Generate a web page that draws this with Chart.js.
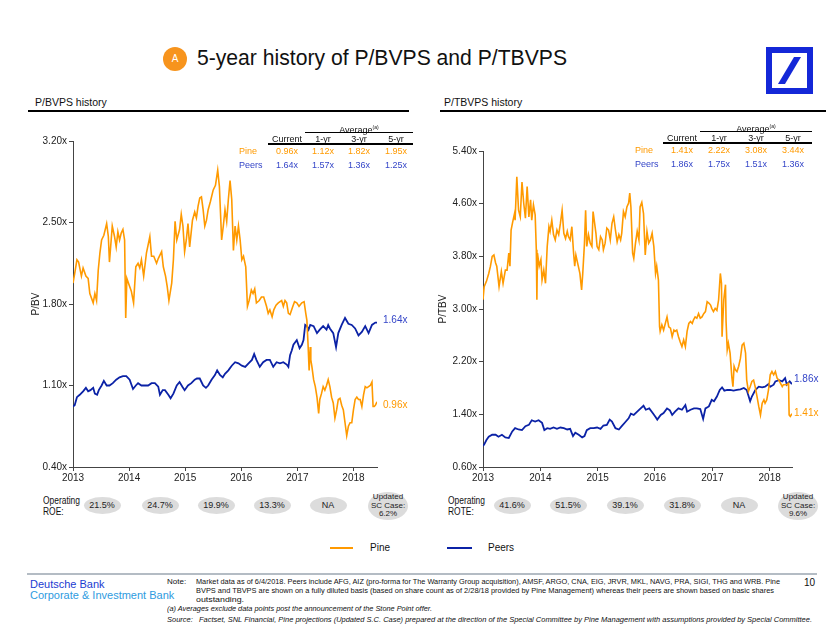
<!DOCTYPE html>
<html>
<head>
<meta charset="utf-8">
<script src="https://cdn.jsdelivr.net/npm/chart.js@4.4.0/dist/chart.umd.min.js"></script>
<style>
  body { margin: 0; width: 840px; height: 632px; position: relative; overflow: hidden; background: #fff;
         font-family: "Liberation Sans", Arial, sans-serif; color: #111; }
  .t { position: absolute; white-space: nowrap; line-height: 12px; }
  .rule { position: absolute; background: #000; }
  .pill { position: absolute; background: #dcdcdc; border-radius: 50%; display: flex; align-items: center;
          justify-content: center; text-align: center; font-size: 9px; line-height: 9px; color: #222; white-space: nowrap; }
  canvas { position: absolute; }
  .foot { position: absolute; font-size: 8px; line-height: 10px; white-space: nowrap; transform-origin: 0 0; color: #111; }
  .fitx { transform-origin: 0 0; }
</style>
</head>
<body>

<div style="position:absolute;left:163px;top:47px;width:24px;height:24px;border-radius:50%;background:#F7941D;color:#fff;font-size:10px;line-height:24px;text-align:center;">A</div>
<div id="title" class="t" style="left:197px;top:45px;font-size:22px;line-height:26px;transform-origin:0 0;">5-year history of P/BVPS and P/TBVPS</div>
<svg style="position:absolute;left:766px;top:47px" width="47" height="47" viewBox="0 0 47 47">
  <rect x="3" y="3" width="41" height="41" fill="#fff" stroke="#1428D8" stroke-width="6"/>
  <polygon points="12,37 19,37 35,10 28,10" fill="#1428D8"/>
</svg>

<div class="t" style="left:35px;top:96px;font-size:10.5px;">P/BVPS history</div>
<div class="rule" style="left:28px;top:110px;width:381px;height:2px;"></div>
<div class="t" style="left:444px;top:96px;font-size:10.5px;">P/TBVPS history</div>
<div class="rule" style="left:440px;top:110px;width:386px;height:2px;"></div>

<canvas id="bvChart" width="420" height="356" style="left:0;top:131px;"></canvas>
<canvas id="tbvChart" width="430" height="346" style="left:410px;top:141px;"></canvas>

<div class="t fit fitx" data-w="37" style="left:43px;top:495px;font-size:10px;line-height:11px;">Operating<br>ROE:</div>
<div class="t fit fitx" data-w="37" style="left:448px;top:495px;font-size:10px;line-height:11px;">Operating<br>ROTE:</div>

<div style="position:absolute;left:330px;top:547px;width:23px;height:2px;background:#FF9900;"></div>
<div class="t" style="left:370px;top:542px;font-size:10px;">Pine</div>
<div style="position:absolute;left:447px;top:547px;width:25px;height:2px;background:#0B22A6;"></div>
<div class="t" style="left:488px;top:542px;font-size:10px;">Peers</div>

<div style="position:absolute;left:27px;top:573px;width:790px;height:2px;background:#b4bcc4;"></div>
<div class="t" style="left:30px;top:578px;font-size:11px;color:#1B3BD1;">Deutsche Bank</div>
<div class="t" style="left:30px;top:589px;font-size:11px;color:#2E9BE0;">Corporate &amp; Investment Bank</div>
<div class="t" style="left:804px;top:577px;font-size:10px;">10</div>
<div class="foot" style="left:167px;top:577px;">Note:</div>
<div class="foot fit" data-w="584" style="left:196px;top:577px;">Market data as of 6/4/2018. Peers include AFG, AIZ (pro-forma for The Warranty Group acquisition), AMSF, ARGO, CNA, EIG, JRVR, MKL, NAVG, PRA, SIGI, THG and WRB. Pine</div>
<div class="foot fit" data-w="578" style="left:196px;top:586px;">BVPS and TBVPS are shown on a fully diluted basis (based on share count as of 2/28/18 provided by Pine Management) whereas their peers are shown based on basic shares</div>
<div class="foot fit" data-w="48" style="left:196px;top:595px;">outstanding.</div>
<div class="foot fit" data-w="265" style="left:167px;top:604px;font-style:italic;">(a) Averages exclude data points post the announcement of the Stone Point offer.</div>
<div class="foot fit" data-w="645" style="left:167px;top:615px;font-style:italic;">Source:&nbsp;&nbsp; Factset, SNL Financial, Pine projections (Updated S.C. Case) prepared at the direction of the Special Committee by Pine Management with assumptions provided by Special Committee.</div>

<script>
// Data
const years = [2013, 2014, 2015, 2016, 2017, 2018];
const bvTicks = [0.4, 1.1, 1.8, 2.5, 3.2];
const tbvTicks = [0.6, 1.4, 2.2, 3.0, 3.8, 4.6, 5.4];

const pineBV = [
  [2013.00, 1.98], [2013.03, 2.06], [2013.07, 2.18], [2013.10, 2.16], [2013.15, 2.04], [2013.18, 2.11],
  [2013.23, 2.04], [2013.27, 2.02], [2013.30, 1.89], [2013.36, 1.81], [2013.39, 1.89], [2013.42, 1.83],
  [2013.45, 2.09], [2013.48, 2.24], [2013.51, 2.35], [2013.55, 2.39], [2013.60, 2.49], [2013.63, 2.38],
  [2013.65, 2.16], [2013.70, 2.47], [2013.74, 2.38], [2013.77, 2.29], [2013.80, 2.42], [2013.83, 2.35],
  [2013.86, 2.41], [2013.89, 2.44], [2013.92, 2.35], [2013.94, 1.68], [2013.96, 2.02], [2014.01, 1.95],
  [2014.04, 1.91], [2014.08, 1.81], [2014.12, 2.12], [2014.16, 2.15], [2014.19, 2.11], [2014.22, 2.18],
  [2014.26, 2.04], [2014.31, 2.24], [2014.37, 2.38], [2014.40, 2.21], [2014.44, 2.21], [2014.49, 2.15],
  [2014.52, 2.19], [2014.58, 2.25], [2014.61, 2.12], [2014.65, 2.04], [2014.68, 1.95], [2014.71, 1.83],
  [2014.76, 1.98], [2014.79, 2.18], [2014.82, 2.51], [2014.85, 2.35], [2014.90, 2.44], [2014.93, 2.57],
  [2014.96, 2.47], [2014.99, 2.25], [2015.02, 2.35], [2015.05, 2.49], [2015.08, 2.29], [2015.13, 2.52],
  [2015.17, 2.59], [2015.20, 2.54], [2015.23, 2.64], [2015.26, 2.71], [2015.29, 2.72], [2015.32, 2.61],
  [2015.35, 2.47], [2015.38, 2.52], [2015.41, 2.61], [2015.45, 2.68], [2015.50, 2.78], [2015.54, 2.82],
  [2015.58, 2.95], [2015.61, 2.81], [2015.63, 2.58], [2015.65, 2.35], [2015.68, 2.47], [2015.71, 2.61],
  [2015.74, 2.51], [2015.77, 2.70], [2015.80, 2.86], [2015.83, 2.70], [2015.86, 2.26], [2015.89, 2.47],
  [2015.92, 2.35], [2015.95, 2.47], [2015.98, 2.35], [2016.01, 2.18], [2016.04, 2.21], [2016.08, 2.12],
  [2016.11, 1.78], [2016.14, 1.83], [2016.18, 1.92], [2016.21, 1.89], [2016.24, 1.93], [2016.27, 1.81],
  [2016.32, 1.83], [2016.36, 1.86], [2016.40, 1.86], [2016.45, 1.78], [2016.48, 1.72], [2016.51, 1.75],
  [2016.55, 1.69], [2016.58, 1.75], [2016.62, 1.79], [2016.66, 1.81], [2016.72, 1.83], [2016.75, 1.78],
  [2016.78, 1.83], [2016.81, 1.81], [2016.84, 1.72], [2016.87, 1.71], [2016.92, 1.78], [2016.95, 1.82],
  [2016.99, 1.81], [2017.03, 1.78], [2017.08, 1.81], [2017.12, 1.82], [2017.15, 1.72], [2017.17, 1.66],
  [2017.19, 1.46], [2017.21, 1.23], [2017.23, 1.43], [2017.24, 1.32], [2017.26, 1.26], [2017.29, 1.15],
  [2017.32, 1.09], [2017.35, 1.00], [2017.38, 0.86], [2017.40, 0.98], [2017.43, 1.03], [2017.46, 1.09],
  [2017.49, 1.06], [2017.52, 1.10], [2017.55, 1.15], [2017.58, 1.09], [2017.61, 1.00], [2017.64, 0.95],
  [2017.67, 0.82], [2017.70, 0.89], [2017.73, 0.98], [2017.76, 0.99], [2017.79, 0.93], [2017.82, 0.89],
  [2017.85, 0.78], [2017.88, 0.67], [2017.91, 0.75], [2017.94, 0.78], [2017.97, 0.78], [2018.00, 0.89],
  [2018.03, 0.98], [2018.06, 1.00], [2018.09, 0.98], [2018.12, 0.98], [2018.15, 0.92], [2018.18, 1.02],
  [2018.21, 1.09], [2018.24, 1.08], [2018.27, 1.09], [2018.30, 1.10], [2018.33, 1.13], [2018.35, 0.92],
  [2018.37, 0.92], [2018.39, 0.93], [2018.42, 0.96]
];

const peersBV = [
  [2013.00, 0.92], [2013.03, 0.93], [2013.07, 1.00], [2013.12, 1.02], [2013.18, 1.05], [2013.23, 1.08],
  [2013.27, 1.05], [2013.31, 1.06], [2013.36, 1.08], [2013.39, 1.03], [2013.43, 1.02], [2013.46, 1.06],
  [2013.51, 1.10], [2013.55, 1.14], [2013.60, 1.10], [2013.65, 1.10], [2013.71, 1.12], [2013.77, 1.15],
  [2013.83, 1.17], [2013.89, 1.18], [2013.95, 1.18], [2014.01, 1.15], [2014.07, 1.07], [2014.12, 1.10],
  [2014.16, 1.12], [2014.22, 1.10], [2014.28, 1.10], [2014.34, 1.10], [2014.40, 1.12], [2014.46, 1.12],
  [2014.52, 1.09], [2014.55, 1.02], [2014.60, 1.06], [2014.64, 1.06], [2014.70, 1.02], [2014.74, 0.99],
  [2014.79, 1.03], [2014.85, 1.10], [2014.90, 1.13], [2014.95, 1.09], [2014.99, 1.06], [2015.05, 1.10],
  [2015.11, 1.12], [2015.17, 1.15], [2015.21, 1.16], [2015.26, 1.16], [2015.32, 1.10], [2015.37, 1.08],
  [2015.41, 1.10], [2015.47, 1.15], [2015.53, 1.19], [2015.57, 1.23], [2015.62, 1.19], [2015.67, 1.17],
  [2015.71, 1.20], [2015.77, 1.23], [2015.83, 1.27], [2015.89, 1.30], [2015.95, 1.29], [2016.01, 1.27],
  [2016.07, 1.26], [2016.13, 1.29], [2016.19, 1.32], [2016.23, 1.37], [2016.27, 1.32], [2016.33, 1.26],
  [2016.39, 1.30], [2016.45, 1.32], [2016.51, 1.32], [2016.57, 1.26], [2016.63, 1.30], [2016.69, 1.29],
  [2016.75, 1.30], [2016.81, 1.28], [2016.84, 1.26], [2016.87, 1.36], [2016.90, 1.40], [2016.93, 1.45],
  [2016.99, 1.49], [2017.04, 1.42], [2017.08, 1.45], [2017.11, 1.49], [2017.14, 1.62], [2017.17, 1.61],
  [2017.20, 1.58], [2017.23, 1.62], [2017.29, 1.61], [2017.35, 1.55], [2017.40, 1.58], [2017.46, 1.61],
  [2017.52, 1.58], [2017.55, 1.62], [2017.58, 1.59], [2017.64, 1.55], [2017.69, 1.43], [2017.73, 1.55],
  [2017.79, 1.62], [2017.85, 1.68], [2017.91, 1.63], [2017.97, 1.62], [2018.03, 1.59], [2018.09, 1.53],
  [2018.15, 1.56], [2018.21, 1.61], [2018.27, 1.55], [2018.33, 1.62], [2018.39, 1.64], [2018.42, 1.64]
];

const pineTBV = [
  [2013.00, 3.14], [2013.02, 3.34], [2013.06, 3.42], [2013.10, 3.54], [2013.13, 3.65], [2013.16, 3.80],
  [2013.19, 3.82], [2013.22, 3.70], [2013.24, 3.65], [2013.28, 3.34], [2013.32, 3.57], [2013.35, 3.39],
  [2013.39, 3.59], [2013.42, 3.59], [2013.45, 3.85], [2013.47, 3.65], [2013.49, 4.20], [2013.52, 4.33],
  [2013.55, 4.45], [2013.56, 4.35], [2013.59, 5.01], [2013.62, 4.50], [2013.65, 4.40], [2013.68, 4.93],
  [2013.71, 4.61], [2013.74, 4.38], [2013.77, 4.86], [2013.80, 4.40], [2013.83, 4.66], [2013.85, 4.35],
  [2013.88, 4.58], [2013.91, 4.43], [2013.93, 3.90], [2013.94, 3.14], [2013.95, 3.85], [2013.98, 3.65],
  [2014.01, 3.75], [2014.03, 3.44], [2014.06, 3.59], [2014.09, 3.39], [2014.12, 3.95], [2014.15, 4.25],
  [2014.17, 4.18], [2014.20, 4.35], [2014.23, 4.13], [2014.26, 4.05], [2014.29, 4.20], [2014.32, 4.13],
  [2014.35, 4.30], [2014.38, 4.50], [2014.41, 4.15], [2014.44, 4.07], [2014.47, 4.18], [2014.49, 4.10],
  [2014.52, 4.05], [2014.55, 4.25], [2014.58, 3.85], [2014.60, 3.65], [2014.62, 3.82], [2014.65, 3.70],
  [2014.69, 3.54], [2014.72, 3.29], [2014.74, 3.54], [2014.77, 4.00], [2014.79, 4.50], [2014.81, 3.95],
  [2014.84, 4.13], [2014.87, 4.00], [2014.90, 3.95], [2014.92, 4.48], [2014.94, 4.35], [2014.97, 4.15],
  [2014.99, 3.95], [2015.02, 3.90], [2015.05, 4.10], [2015.08, 4.05], [2015.10, 3.90], [2015.13, 4.00],
  [2015.16, 4.23], [2015.19, 4.20], [2015.22, 4.05], [2015.25, 4.30], [2015.28, 4.40], [2015.31, 4.20],
  [2015.34, 4.02], [2015.37, 4.13], [2015.40, 4.05], [2015.42, 4.15], [2015.45, 4.48], [2015.48, 4.40],
  [2015.51, 4.55], [2015.54, 4.61], [2015.56, 4.76], [2015.58, 4.55], [2015.61, 3.85], [2015.63, 3.77],
  [2015.66, 4.00], [2015.69, 4.18], [2015.72, 4.05], [2015.74, 4.55], [2015.77, 4.62], [2015.80, 4.45],
  [2015.83, 3.82], [2015.86, 4.18], [2015.89, 4.00], [2015.92, 4.05], [2015.95, 4.15], [2015.98, 3.95],
  [2016.01, 3.54], [2016.03, 3.65], [2016.06, 3.44], [2016.08, 2.73], [2016.09, 2.66], [2016.12, 2.76],
  [2016.15, 2.68], [2016.18, 2.78], [2016.21, 2.88], [2016.24, 2.73], [2016.27, 2.71], [2016.30, 2.58],
  [2016.33, 2.68], [2016.35, 2.66], [2016.38, 2.68], [2016.41, 2.58], [2016.44, 2.50], [2016.47, 2.43],
  [2016.50, 2.53], [2016.53, 2.43], [2016.56, 2.66], [2016.59, 2.78], [2016.62, 2.81], [2016.65, 2.78],
  [2016.67, 2.83], [2016.70, 2.88], [2016.73, 2.86], [2016.76, 2.93], [2016.79, 2.86], [2016.82, 2.88],
  [2016.85, 2.93], [2016.88, 2.96], [2016.91, 3.11], [2016.94, 3.09], [2016.97, 3.06], [2016.99, 3.01],
  [2017.02, 2.96], [2017.05, 3.01], [2017.08, 2.98], [2017.11, 3.14], [2017.14, 3.54], [2017.16, 3.39],
  [2017.17, 2.58], [2017.20, 3.14], [2017.23, 3.37], [2017.24, 2.81], [2017.26, 2.38], [2017.28, 2.48],
  [2017.31, 2.33], [2017.34, 1.97], [2017.36, 1.82], [2017.38, 2.13], [2017.40, 2.08], [2017.43, 2.05],
  [2017.46, 2.13], [2017.49, 2.25], [2017.52, 2.45], [2017.55, 2.48], [2017.58, 2.33], [2017.60, 1.92],
  [2017.63, 1.75], [2017.66, 1.82], [2017.69, 1.90], [2017.72, 1.92], [2017.75, 1.81], [2017.78, 1.67],
  [2017.81, 1.52], [2017.84, 1.39], [2017.87, 1.57], [2017.90, 1.62], [2017.92, 1.57], [2017.95, 1.62],
  [2017.98, 1.77], [2018.01, 2.00], [2018.04, 2.05], [2018.07, 2.00], [2018.10, 2.05], [2018.13, 1.95],
  [2018.16, 1.92], [2018.19, 1.87], [2018.22, 1.82], [2018.24, 1.85], [2018.27, 1.85], [2018.30, 1.85],
  [2018.33, 1.87], [2018.34, 1.39], [2018.36, 1.37], [2018.39, 1.41]
];

const peersTBV = [
  [2013.00, 0.92], [2013.02, 0.94], [2013.06, 1.01], [2013.10, 1.06], [2013.16, 1.09], [2013.22, 1.09],
  [2013.27, 1.06], [2013.33, 1.09], [2013.39, 1.05], [2013.45, 1.04], [2013.51, 1.14], [2013.56, 1.19],
  [2013.62, 1.17], [2013.68, 1.16], [2013.74, 1.22], [2013.80, 1.24], [2013.85, 1.31], [2013.91, 1.29],
  [2013.97, 1.31], [2014.03, 1.27], [2014.07, 1.16], [2014.12, 1.19], [2014.17, 1.18], [2014.23, 1.20],
  [2014.29, 1.18], [2014.35, 1.20], [2014.41, 1.19], [2014.47, 1.17], [2014.52, 1.18], [2014.57, 1.07],
  [2014.61, 1.12], [2014.67, 1.09], [2014.73, 1.05], [2014.77, 1.07], [2014.81, 1.16], [2014.87, 1.19],
  [2014.93, 1.19], [2014.99, 1.20], [2015.05, 1.18], [2015.10, 1.23], [2015.16, 1.24], [2015.21, 1.32],
  [2015.25, 1.29], [2015.31, 1.19], [2015.37, 1.17], [2015.42, 1.22], [2015.48, 1.28], [2015.54, 1.34],
  [2015.58, 1.41], [2015.63, 1.39], [2015.69, 1.44], [2015.75, 1.49], [2015.80, 1.53], [2015.84, 1.47],
  [2015.90, 1.49], [2015.96, 1.42], [2016.01, 1.36], [2016.04, 1.32], [2016.10, 1.39], [2016.15, 1.42],
  [2016.21, 1.49], [2016.26, 1.46], [2016.30, 1.39], [2016.35, 1.44], [2016.41, 1.49], [2016.47, 1.47],
  [2016.53, 1.54], [2016.56, 1.44], [2016.62, 1.47], [2016.68, 1.49], [2016.73, 1.49], [2016.79, 1.48],
  [2016.84, 1.33], [2016.88, 1.49], [2016.94, 1.52], [2016.99, 1.62], [2017.03, 1.60], [2017.08, 1.67],
  [2017.13, 1.77], [2017.17, 1.81], [2017.21, 1.76], [2017.26, 1.77], [2017.31, 1.77], [2017.37, 1.76],
  [2017.43, 1.77], [2017.49, 1.78], [2017.55, 1.80], [2017.60, 1.77], [2017.66, 1.60], [2017.69, 1.67],
  [2017.75, 1.77], [2017.81, 1.82], [2017.87, 1.81], [2017.92, 1.82], [2017.98, 1.86], [2018.01, 1.82],
  [2018.07, 1.85], [2018.10, 1.90], [2018.16, 1.92], [2018.22, 1.90], [2018.27, 1.95], [2018.30, 1.85],
  [2018.35, 1.90], [2018.39, 1.86]
];

const statCols = ["Current", "1-yr", "3-yr", "5-yr"];
const pineBVStats = ["0.96x", "1.12x", "1.82x", "1.95x"];
const peersBVStats = ["1.64x", "1.57x", "1.36x", "1.25x"];
const pineTBVStats = ["1.41x", "2.22x", "3.08x", "3.44x"];
const peersTBVStats = ["1.86x", "1.75x", "1.51x", "1.36x"];

const roe = ["21.5%", "24.7%", "19.9%", "13.3%", "NA"];
const roeCase = "6.2%";
const rote = ["41.6%", "51.5%", "39.1%", "31.8%", "NA"];
const roteCase = "9.6%";

const ORANGE = "#FF9A00";
const BLUE = "#0B22A6";

function addText(txt, x, y, css) {
  const d = document.createElement("div");
  d.className = "t";
  d.style.left = x + "px";
  d.style.top = y + "px";
  d.innerHTML = txt;
  Object.assign(d.style, css || {});
  document.body.appendChild(d);
  return d;
}

function addRule(x, y, w, h) {
  const d = document.createElement("div");
  d.className = "rule";
  Object.assign(d.style, { left: x + "px", top: y + "px", width: w + "px", height: h + "px" });
  document.body.appendChild(d);
}

// Stats table above each chart
function statTable(labelX, centers, avgX, avgW, lineX, top, pineStats, peerStats) {
  addText("Average<sup style='font-size:5px'>(a)</sup>", avgX, top - 17, { fontSize: "9px", width: avgW + "px", textAlign: "center" });
  addRule(avgX, top - 6, avgW, 1);
  statCols.forEach((c, i) => addText(c, centers[i] - 30, top - 5, { fontSize: "9px", width: "60px", textAlign: "center" }));
  addRule(lineX, top + 5, avgX + avgW - lineX, 1.5);
  addText("Pine", labelX, top + 7, { fontSize: "9px", color: ORANGE });
  addText("Peers", labelX, top + 21, { fontSize: "9px", color: "#3546C8" });
  pineStats.forEach((v, i) => addText(v, centers[i] - 30, top + 7, { fontSize: "9px", width: "60px", textAlign: "center", color: ORANGE }));
  peerStats.forEach((v, i) => addText(v, centers[i] - 30, top + 21, { fontSize: "9px", width: "60px", textAlign: "center", color: "#3546C8" }));
}
statTable(239, [287, 323, 359, 396], 305, 108, 268, 138, pineBVStats, peersBVStats);
statTable(635, [682, 719, 756, 793], 700, 112, 663, 137, pineTBVStats, peersTBVStats);

// Operating ROE / ROTE pills
function pills(centers, vals, caseVal) {
  vals.forEach((v, i) => {
    const p = document.createElement("div");
    p.className = "pill";
    Object.assign(p.style, { left: (centers[i] - 18.5) + "px", top: "497px", width: "37px", height: "17px" });
    p.textContent = v;
    document.body.appendChild(p);
  });
  const p = document.createElement("div");
  p.className = "pill";
  Object.assign(p.style, { left: (centers[5] - 20) + "px", top: "492px", width: "40px", height: "28px",
                           fontSize: "8px", lineHeight: "8.5px" });
  p.innerHTML = "Updated<br>SC Case:<br>" + caseVal;
  document.body.appendChild(p);
}
pills([102, 160, 216, 272, 328, 388], roe, roeCase);
pills([512, 568, 625, 682, 739, 798], rote, roteCase);

// Labels at the end of each line
const endLabels = {
  id: "endLabels",
  afterDatasetsDraw(chart, args, opts) {
    const ctx = chart.ctx;
    const ys = chart.scales.y;
    chart.data.datasets.forEach(ds => {
      const last = ds.data[ds.data.length - 1];
      ctx.save();
      ctx.font = '10px "Liberation Sans", Arial, sans-serif';
      ctx.fillStyle = ds.endColor;
      ctx.textBaseline = "middle";
      ctx.fillText(last.y.toFixed(2) + "x", chart.chartArea.right + opts.gap, ys.getPixelForValue(last.y) + ds.endDy);
      ctx.restore();
    });
  }
};

Chart.defaults.font.family = '"Liberation Sans", Arial, sans-serif';
Chart.defaults.font.size = 10;
Chart.defaults.color = "#222";

function buildChart(id, pine, peers, yTicks, yTitle, pad, yWidth, gap, dys) {
  const toXY = arr => arr.map(p => ({ x: p[0], y: p[1] }));
  return new Chart(document.getElementById(id).getContext("2d"), {
    type: "line",
    data: {
      datasets: [
        { label: "Pine", data: toXY(pine), borderColor: ORANGE, borderWidth: 1.6, pointRadius: 0, tension: 0,
          endColor: "#FF9900", endDy: dys[0] },
        { label: "Peers", data: toXY(peers), borderColor: BLUE, borderWidth: 1.8, pointRadius: 0, tension: 0,
          endColor: "#3546C8", endDy: dys[1] }
      ]
    },
    options: {
      responsive: false,
      animation: false,
      layout: { padding: pad },
      scales: {
        x: {
          type: "linear",
          min: years[0],
          max: pine[pine.length - 1][0],
          afterBuildTicks: s => { s.ticks = years.map(v => ({ value: v })); },
          afterFit: s => { s.height = 20; },
          ticks: { callback: v => String(v), maxRotation: 0, padding: 1, color: "#222" },
          grid: { drawOnChartArea: false, drawTicks: true, tickLength: 4, color: "#444" },
          border: { display: true, color: "#444", width: 1 }
        },
        y: {
          min: yTicks[0],
          max: yTicks[yTicks.length - 1],
          afterBuildTicks: s => { s.ticks = yTicks.map(v => ({ value: v })); },
          afterFit: s => { s.width = yWidth; },
          ticks: { callback: v => v.toFixed(2) + "x", padding: 2, color: "#222" },
          grid: { drawOnChartArea: false, drawTicks: true, tickLength: 4, color: "#444" },
          border: { display: true, color: "#444", width: 1 },
          title: { display: true, text: yTitle, padding: 0, color: "#222" }
        }
      },
      plugins: {
        legend: { display: false },
        tooltip: { enabled: false },
        endLabels: { gap: gap }
      }
    },
    plugins: [endLabels]
  });
}

buildChart("bvChart", pineBV, peersBV, bvTicks, "P/BV", { left: 30, top: 10, right: 43, bottom: 0 }, 43, 6, [3, -2]);
buildChart("tbvChart", pineTBV, peersTBV, tbvTicks, "P/TBV", { left: 27, top: 10, right: 48, bottom: 0 }, 46, 2, [0, -5]);

// squeeze text blocks to the widths they take on the slide
function fitWidth(el, w) {
  const nat = el.getBoundingClientRect().width;
  if (nat > 0) el.style.transform = "scaleX(" + (w / nat) + ")";
}
fitWidth(document.getElementById("title"), 370);
document.querySelectorAll(".fit").forEach(el => fitWidth(el, +el.dataset.w));
</script>
</body>
</html>
